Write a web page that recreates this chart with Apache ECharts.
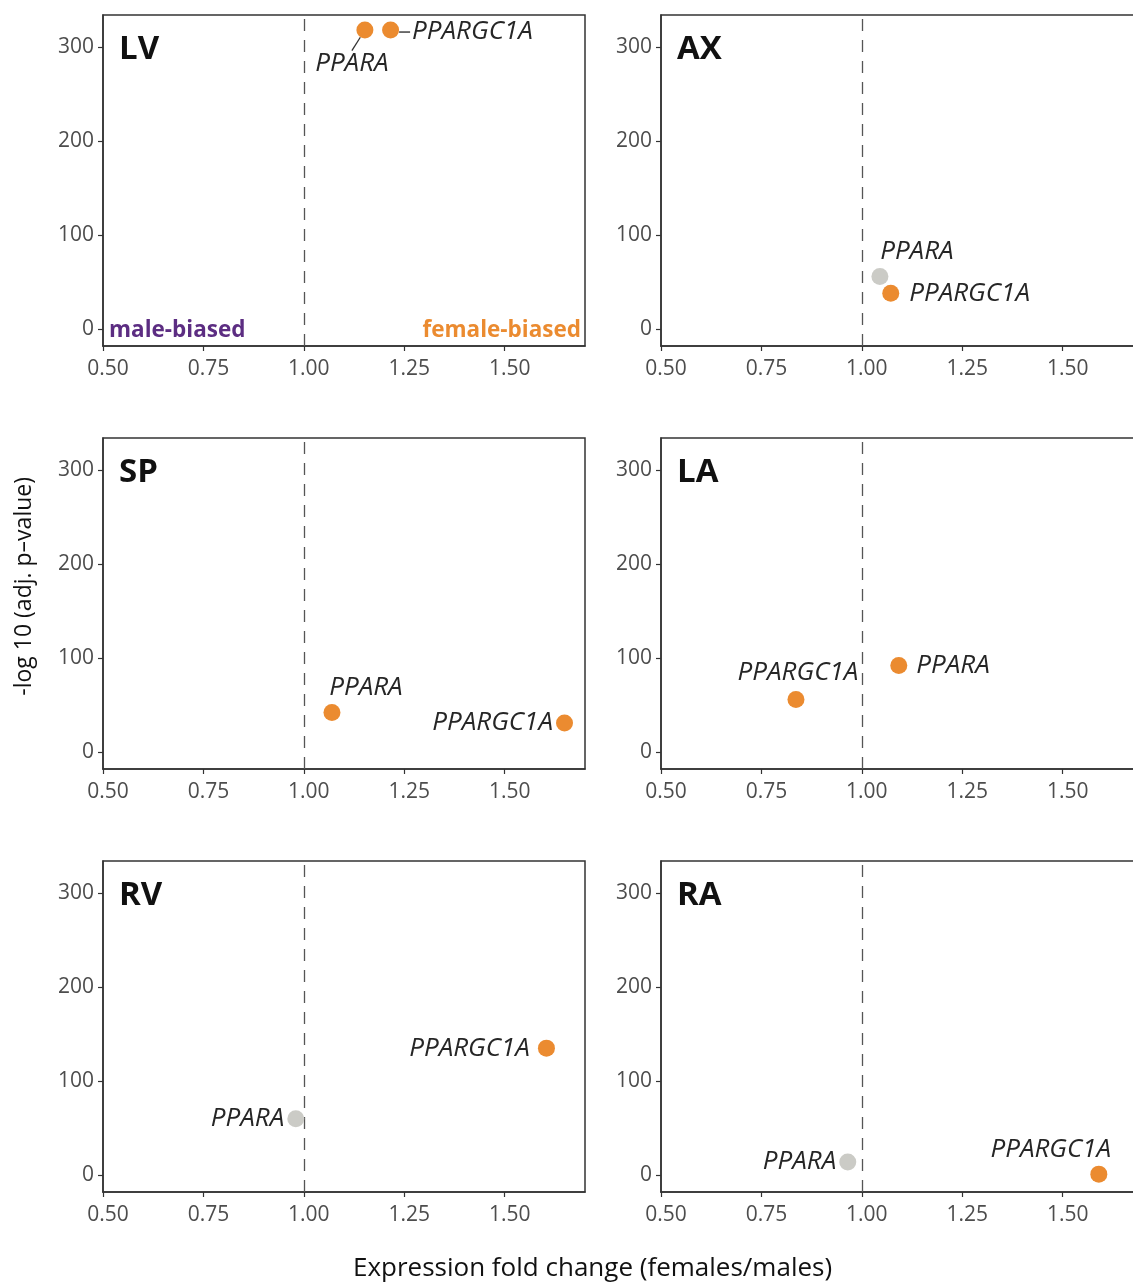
<!DOCTYPE html>
<html>
<head>
<meta charset="utf-8">
<script src="https://cdn.jsdelivr.net/npm/echarts@6/dist/echarts.min.js"></script>
<style>
html,body{margin:0;padding:0;background:#fff;overflow:hidden;}
#main{width:1160px;height:1287px;}
</style>
</head>
<body>
<div id="main"></div>
<script>
// ---- data ----
const panelNames = ['LV', 'AX', 'SP', 'LA', 'RV', 'RA'];
const geneNames = ['PPARA', 'PPARGC1A'];
const pparaFold = [1.152, 1.045, 1.070, 1.092, 0.980, 0.965];
const pparaNegLogP = [318, 56, 42, 92, 60, 14];
const pparaSignificant = [1, 0, 1, 1, 0, 0];
const ppargc1aFold = [1.216, 1.072, 1.649, 0.836, 1.604, 1.590];
const ppargc1aNegLogP = [318, 38, 31, 56, 135, 1];
const ppargc1aSignificant = [1, 1, 1, 1, 1, 1];
const xTickValues = [0.5, 0.75, 1.0, 1.25, 1.5];
const yTickValues = [0, 100, 200, 300];
const xRange = [0.5, 1.7];
const yRange = [-18, 334];
const referenceFold = 1.0;

// ---- style / layout ----
const ORANGE = '#EB8B30';
const GREY = '#CBCBC6';
const PURPLE = '#5C2D82';
const FONT = '"Open Sans", "Noto Sans", sans-serif';
const gridLefts = [103, 661];
const gridTops = [15, 438, 861];
const gridW = 482, gridH = 331;

// label placement per panel: [PPARA, PPARGC1A]
const labelPlacement = [
  [{position: 'bottom', distance: 2, move: [-13, 10], line: true}, {position: 'right', distance: 0, offset: [0, 2], dash: true}],
  [{position: 'top', distance: 3, offset: [37, 0]}, {position: 'right', distance: 10}],
  [{position: 'top', distance: 3, offset: [34, 0]}, {position: 'left', distance: 3}],
  [{position: 'right', distance: 9}, {position: 'top', distance: 5, offset: [2, 0]}],
  [{position: 'left', distance: 3}, {position: 'left', distance: 8}],
  [{position: 'left', distance: 3}, {position: 'top', distance: 3, offset: [-48, 0]}]
];

const grids = [], xAxes = [], yAxes = [], series = [], titles = [];
panelNames.forEach((name, i) => {
  const col = i % 2, row = Math.floor(i / 2);
  const left = gridLefts[col], top = gridTops[row];
  grids.push({left: left, top: top, width: gridW, height: gridH, show: true,
    borderColor: '#333', borderWidth: 1.5, backgroundColor: '#fff', containLabel: false});
  xAxes.push({type: 'value', gridIndex: i, min: xRange[0], max: xRange[1],
    splitLine: {show: false},
    axisLine: {show: true, onZero: false, lineStyle: {color: '#333', width: 1.5}},
    axisTick: {show: true, length: 5, customValues: xTickValues, lineStyle: {color: '#333', width: 1.2}},
    axisLabel: {customValues: xTickValues, formatter: v => v.toFixed(2), color: '#4d4d4d',
      fontFamily: FONT, fontSize: 21, margin: 13, padding: [0, 0, 0, 10]}
  });
  yAxes.push({type: 'value', gridIndex: i, min: yRange[0], max: yRange[1],
    splitLine: {show: false},
    axisLine: {show: true, onZero: false, lineStyle: {color: '#333', width: 1.5}},
    axisTick: {show: true, length: 5, customValues: yTickValues, lineStyle: {color: '#333', width: 1.2}},
    axisLabel: {customValues: yTickValues, color: '#4d4d4d', fontFamily: FONT, fontSize: 21, margin: 9}
  });
  titles.push({text: name, left: left + 16, top: top + 18, padding: 0,
    textStyle: {fontFamily: FONT, fontWeight: 'bold', fontSize: 33, color: '#111'}});

  const placements = labelPlacement[i];
  const pts = [
    {fold: pparaFold[i], p: pparaNegLogP[i], sig: pparaSignificant[i], gene: geneNames[0], pl: placements[0]},
    {fold: ppargc1aFold[i], p: ppargc1aNegLogP[i], sig: ppargc1aSignificant[i], gene: geneNames[1], pl: placements[1]}
  ];
  const data = pts.map(pt => {
    const lab = {show: true, position: pt.pl.position, distance: pt.pl.distance,
      fontFamily: FONT, fontStyle: 'italic', fontSize: 26, color: '#262626'};
    if (pt.pl.dash) {
      lab.formatter = '{dash| }{gap| }{g|' + pt.gene + '}';
      lab.rich = {
        dash: {width: 11, height: 1.4, backgroundColor: '#333'},
        gap: {width: 2},
        g: {fontFamily: FONT, fontStyle: 'italic', fontSize: 26, color: '#262626'}
      };
    } else {
      lab.formatter = pt.gene;
    }
    if (pt.pl.offset) lab.offset = pt.pl.offset;
    const item = {value: [pt.fold, pt.p], itemStyle: {color: pt.sig ? ORANGE : GREY, opacity: 1}, label: lab};
    if (pt.pl.line) item.labelLine = {show: true, lineStyle: {color: '#333', width: 1.3}};
    return item;
  });
  const s = {type: 'scatter', xAxisIndex: i, yAxisIndex: i, symbolSize: 17, data: data, z: 5,
    itemStyle: {opacity: 1},
    markLine: {silent: true, symbol: 'none', label: {show: false},
      lineStyle: {color: '#555', width: 1.3, type: [12, 9]},
      data: [{xAxis: referenceFold}]}
  };
  if (placements.some(p => p.move)) {
    s.labelLayout = function (params) {
      const pl = placements[params.dataIndex];
      if (pl.move) return {dx: pl.move[0], dy: pl.move[1]};
      const off = pl.offset || [0, 0];
      return {dx: off[0], dy: off[1]};
    };
  }
  series.push(s);
});

const option = {
  animation: false,
  backgroundColor: '#fff',
  title: titles,
  grid: grids,
  xAxis: xAxes,
  yAxis: yAxes,
  series: series,
  graphic: [
    {type: 'text', left: 109, top: 319, style: {text: 'male-biased', fill: PURPLE,
      font: 'bold 22.5px "Open Sans", sans-serif'}},
    {type: 'text', right: 1160 - 581, top: 319, style: {text: 'female-biased', fill: ORANGE,
      font: 'bold 22.5px "Open Sans", sans-serif'}},
    {type: 'text', left: 13, top: 477, rotation: Math.PI / 2, style: {text: '-log 10 (adj. p\u2013value)', fill: '#111',
      font: '23px "Open Sans", sans-serif'}},
    {type: 'text', left: 353, top: 1256, style: {text: 'Expression fold change (females/males)', fill: '#111',
      font: '26px "Open Sans", sans-serif'}}
  ]
};
const chart = echarts.init(document.getElementById('main'), null, {renderer: 'canvas'});
chart.setOption(option);
</script>
</body>
</html>
